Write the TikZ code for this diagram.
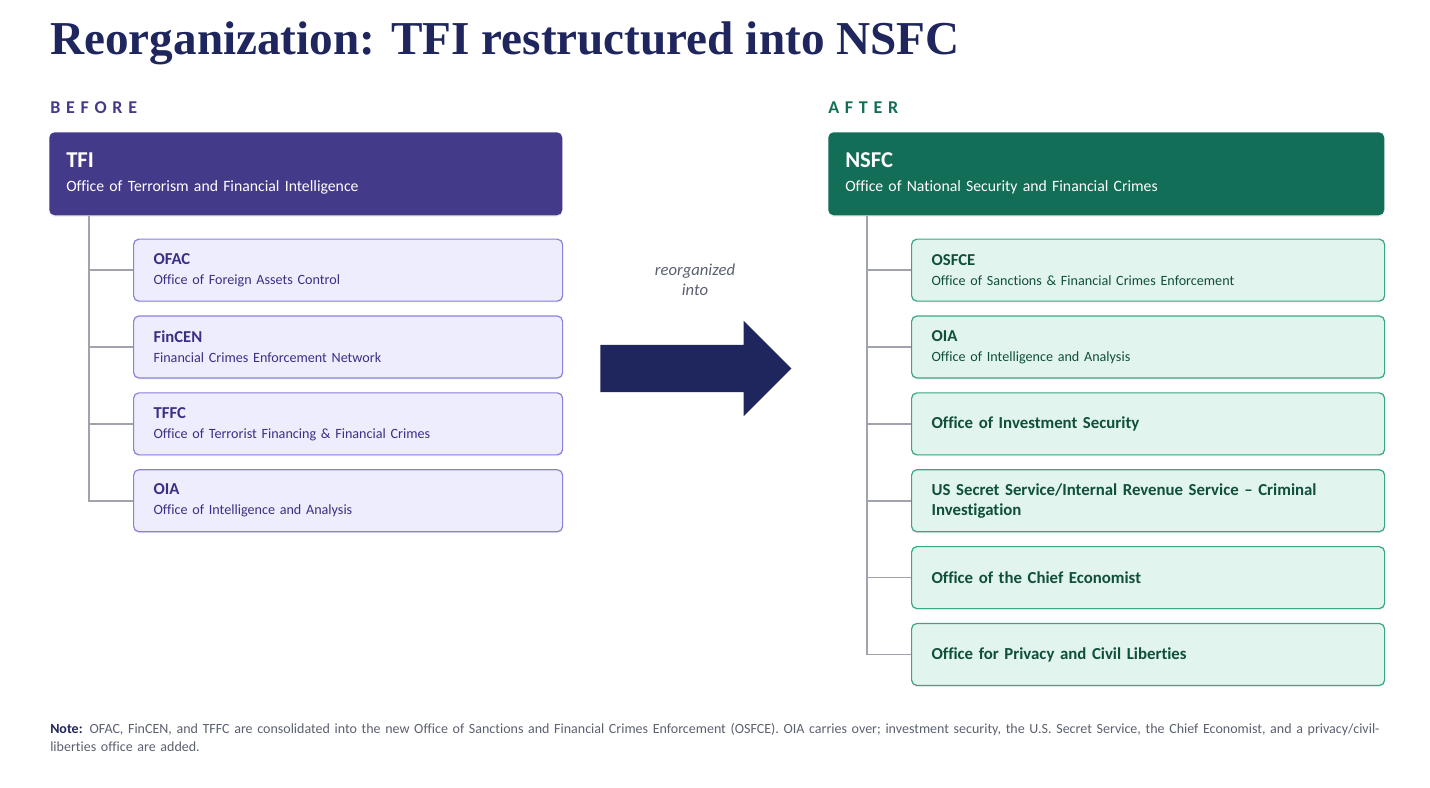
\documentclass[tikz,border=0pt]{standalone}
\usepackage{fontspec}
\setmainfont[Ligatures=NoCommon]{Carlito}
\newfontfamily\titlefont{Liberation Serif}
\newfontfamily\spacedfont[LetterSpace=32]{Carlito}
\usepackage{xcolor}
\usepackage{tikz}
\usetikzlibrary{positioning, shapes.arrows, shadows}

\definecolor{navy}{HTML}{1F265E}
\definecolor{tfipurple}{HTML}{443A8A}
\definecolor{tfifill}{HTML}{EEEDFD}
\definecolor{tfiline}{HTML}{8A80E0}
\definecolor{tfitext}{HTML}{3B2F85}
\definecolor{nsfcgreen}{HTML}{126E56}
\definecolor{nsfcfill}{HTML}{E1F4ED}
\definecolor{nsfcline}{HTML}{3AA87E}
\definecolor{nsfctext}{HTML}{0F4F3C}
\definecolor{trunkgray}{HTML}{A0A3AD}
\definecolor{notegray}{HTML}{5B6070}

\begin{document}
\begin{tikzpicture}[
    x=0.75pt, y=-0.75pt,
    header/.style={rectangle, rounded corners=4pt, anchor=north west,
                   minimum height=62.25pt, inner xsep=12.75pt, inner ysep=2pt,
                   align=left, text=white, font=\fontsize{11.8}{14}\selectfont,
                   drop shadow={opacity=0.12, shadow xshift=0pt, shadow yshift=-1.2pt}},
    unit/.style={rectangle, rounded corners=4pt, draw, line width=0.9pt,
                 minimum height=46.5pt, inner xsep=15pt, inner ysep=2pt,
                 align=left, font=\fontsize{10.6}{15}\selectfont,
                 drop shadow={opacity=0.10, shadow xshift=0pt, shadow yshift=-1.2pt}},
    before/.style={unit, fill=tfifill, draw=tfiline, text=tfitext, text width=291.75pt},
    after/.style={unit, fill=nsfcfill, draw=nsfcline, text=nsfctext, text width=324.75pt},
    single/.style={after, font=\bfseries\fontsize{12.6}{15}\selectfont},
    branch/.style={draw=trunkgray, line width=1.3pt},
    label/.style={anchor=base west, font=\spacedfont\bfseries\fontsize{13.5}{15}\selectfont},
]
\useasboundingbox (0,0) rectangle (1430,788);

% Title
\node[anchor=base west, inner sep=0, text=navy,
      font=\titlefont\bfseries\fontsize{35.4}{40}\selectfont] (title) at (50,55)
    {Reorganization: TFI restructured into NSFC};

% Before
\node[label, text=tfipurple, inner sep=0] (lblbefore) at (50,114) {BEFORE};

\node[header, fill=tfipurple, text width=359.25pt] (tfi) at (49,132) {
    \textbf{\fontsize{17}{19}\selectfont TFI}\\[4pt]
    Office of Terrorism and Financial Intelligence
};

\node[before, below=17.25pt of tfi.south west, anchor=north west, xshift=63pt] (ofac) {
    \textbf{\fontsize{12.5}{15}\selectfont OFAC}\\
    Office of Foreign Assets Control
};
\node[before, below=10.25pt of ofac] (fincen) {
    \textbf{\fontsize{12.5}{15}\selectfont FinCEN}\\
    Financial Crimes Enforcement Network
};
\node[before, below=10.25pt of fincen] (tffc) {
    \textbf{\fontsize{12.5}{15}\selectfont TFFC}\\
    Office of Terrorist Financing \& Financial Crimes
};
\node[before, below=10.25pt of tffc] (oiaold) {
    \textbf{\fontsize{12.5}{15}\selectfont OIA}\\
    Office of Intelligence and Analysis
};

% Before tree lines
\coordinate (tfitrunk) at ([xshift=30pt]tfi.south west);
\draw[branch] (tfitrunk) |- (oiaold.west);
\foreach \n in {ofac,fincen,tffc}
    \draw[branch] (\n.west) -- (\n.west -| tfitrunk);

% Shift arrow
\node[single arrow, fill=navy, draw=none, inner xsep=0, inner ysep=17.6pt,
      minimum height=143.25pt, single arrow head extend=18pt,
      anchor=tail] (shift) at (600,368.5) {};
\node[align=center, text=notegray, font=\itshape\fontsize{12.5}{15}\selectfont] (shiftlbl)
    at (695,280) {reorganized\\into};

% After
\node[label, text=nsfcgreen, inner sep=0] (lblafter) at (828,114) {AFTER};

\node[header, fill=nsfcgreen, text width=391.5pt] (nsfc) at (828,132) {
    \textbf{\fontsize{17}{19}\selectfont NSFC}\\[4pt]
    Office of National Security and Financial Crimes
};

\node[after, below=17.25pt of nsfc.south west, anchor=north west, xshift=62.25pt] (osfce) {
    \textbf{\fontsize{12.5}{15}\selectfont OSFCE}\\
    Office of Sanctions \& Financial Crimes Enforcement
};
\node[after, below=10.25pt of osfce] (oianew) {
    \textbf{\fontsize{12.5}{15}\selectfont OIA}\\
    Office of Intelligence and Analysis
};
\node[single, below=10.25pt of oianew] (ois) {
    Office of Investment Security
};
\node[single, below=10.25pt of ois] (ussirs) {
    US Secret Service/Internal Revenue Service -- Criminal\\
    Investigation
};
\node[single, below=10.25pt of ussirs] (oce) {
    Office of the Chief Economist
};
\node[single, below=10.25pt of oce] (opcl) {
    Office for Privacy and Civil Liberties
};

% After tree lines
\coordinate (nsfctrunk) at ([xshift=29.25pt]nsfc.south west);
\draw[branch] (nsfctrunk) |- (opcl.west);
\foreach \n in {osfce,oianew,ois,ussirs,oce}
    \draw[branch] (\n.west) -- (\n.west -| nsfctrunk);

% Note
\node[anchor=north west, inner sep=0, text width=1008.75pt, align=left, text=notegray,
      font=\fontsize{10.5}{13.5}\selectfont] (note) at (50,723) {
    \textcolor{navy}{\textbf{Note:}} OFAC, FinCEN, and TFFC are consolidated into the new Office of Sanctions and Financial Crimes Enforcement (OSFCE). OIA carries over; investment security, the U.S. Secret Service, the Chief Economist, and a privacy/civil-liberties office are added.
};

\end{tikzpicture}
\end{document}
